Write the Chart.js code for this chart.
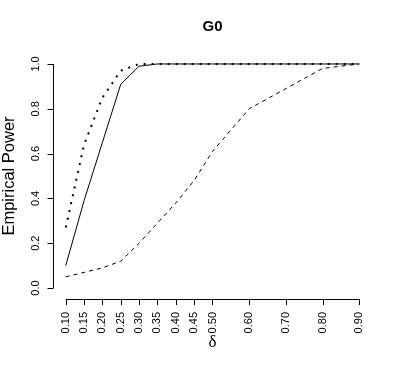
<!DOCTYPE html>
<html>
<head>
<meta charset="utf-8">
<script src="https://cdn.jsdelivr.net/npm/chart.js@4/dist/chart.umd.min.js"></script>
<style>
  body { margin: 0; background: #fff; }
</style>
</head>
<body>
<canvas id="myChart" width="399" height="366"></canvas>
<script>
// delta values on the x axis
const deltas = [0.10, 0.15, 0.20, 0.25, 0.30, 0.35, 0.40, 0.45, 0.50, 0.60, 0.70, 0.80, 0.90];
const xTickLabels = ['0.10', '0.15', '0.20', '0.25', '0.30', '0.35', '0.40', '0.45', '0.50', '0.60', '0.70', '0.80', '0.90'];
const yTicks = [0, 0.2, 0.4, 0.6, 0.8, 1.0];
const yTickLabels = ['0.0', '0.2', '0.4', '0.6', '0.8', '1.0'];

// empirical power, one array per line
const powerDotted = [0.27, 0.64, 0.85, 0.97, 1.00, 1, 1, 1, 1, 1, 1, 1, 1];
const powerSolid = [0.10, 0.39, 0.65, 0.91, 0.99, 1, 1, 1, 1, 1, 1, 1, 1];
const powerDashed = [0.05, 0.07, 0.09, 0.12, 0.20, 0.29, 0.38, 0.48, 0.61, 0.80, 0.89, 0.98, 1.00];

function toPoints(ys) {
    return deltas.map((d, i) => ({x: d, y: ys[i]}));
}

// R-style axes, drawn off the chart scales
const rAxes = {
    id: 'rAxes',
    afterDraw(chart) {
        const c = chart.ctx;
        const xs = chart.scales.x;
        const ys = chart.scales.y;
        const axisX = chart.chartArea.left - 1;
        const axisY = chart.chartArea.bottom + 2;
        c.save();
        c.strokeStyle = '#000';
        c.fillStyle = '#000';
        c.lineWidth = 1;

        // y axis
        c.beginPath();
        c.moveTo(axisX + 0.5, ys.getPixelForValue(0));
        c.lineTo(axisX + 0.5, ys.getPixelForValue(1));
        yTicks.forEach(v => {
            const p = Math.round(ys.getPixelForValue(v)) + 0.5;
            c.moveTo(axisX + 0.5, p);
            c.lineTo(axisX - 5.5, p);
        });
        c.stroke();
        c.font = '11px "Liberation Sans", Arial, sans-serif';
        c.textAlign = 'center';
        c.textBaseline = 'middle';
        yTicks.forEach((v, i) => {
            c.save();
            c.translate(36, ys.getPixelForValue(v));
            c.rotate(-Math.PI / 2);
            c.fillText(yTickLabels[i], 0, 0);
            c.restore();
        });

        // x axis
        c.beginPath();
        c.moveTo(xs.getPixelForValue(deltas[0]), axisY + 0.5);
        c.lineTo(xs.getPixelForValue(deltas[deltas.length - 1]), axisY + 0.5);
        deltas.forEach(d => {
            const p = Math.round(xs.getPixelForValue(d)) + 0.5;
            c.moveTo(p, axisY + 0.5);
            c.lineTo(p, axisY + 6);
        });
        c.stroke();
        c.textAlign = 'right';
        deltas.forEach((d, i) => {
            c.save();
            c.translate(xs.getPixelForValue(d), axisY + 13);
            c.rotate(-Math.PI / 2);
            c.fillText(xTickLabels[i], 0, 0);
            c.restore();
        });

        // titles
        const mid = (chart.chartArea.left + chart.chartArea.right) / 2;
        c.textAlign = 'center';
        c.font = 'bold 15px "Liberation Sans", Arial, sans-serif';
        c.fillText('G0', mid, 27);
        c.font = '17px "Liberation Serif", serif';
        c.fillText('δ', mid, 343);
        c.save();
        c.translate(9, (chart.chartArea.top + chart.chartArea.bottom) / 2);
        c.rotate(-Math.PI / 2);
        c.font = '16.5px "Liberation Sans", Arial, sans-serif';
        c.fillText('Empirical Power', 0, 0);
        c.restore();
        c.restore();
    }
};

var ctx = document.getElementById('myChart').getContext('2d');
var myChart = new Chart(ctx, {
    type: 'line',
    data: {
        datasets: [{
            data: toPoints(powerDotted),
            borderColor: '#000',
            borderWidth: 2,
            borderDash: [2, 6],
            pointRadius: 0,
            tension: 0
        }, {
            data: toPoints(powerSolid),
            borderColor: '#000',
            borderWidth: 1,
            pointRadius: 0,
            tension: 0
        }, {
            data: toPoints(powerDashed),
            borderColor: '#000',
            borderWidth: 1,
            borderDash: [4, 4],
            pointRadius: 0,
            tension: 0
        }]
    },
    options: {
        responsive: false,
        animation: false,
        layout: {
            padding: {left: 54, right: 28, top: 55, bottom: 69}
        },
        plugins: {
            legend: false,
            tooltip: {enabled: false}
        },
        scales: {
            x: {type: 'linear', min: 0.068, max: 0.932, display: false},
            y: {type: 'linear', min: -0.04, max: 1.04, display: false}
        }
    },
    plugins: [rAxes]
});
</script>
</body>
</html>
